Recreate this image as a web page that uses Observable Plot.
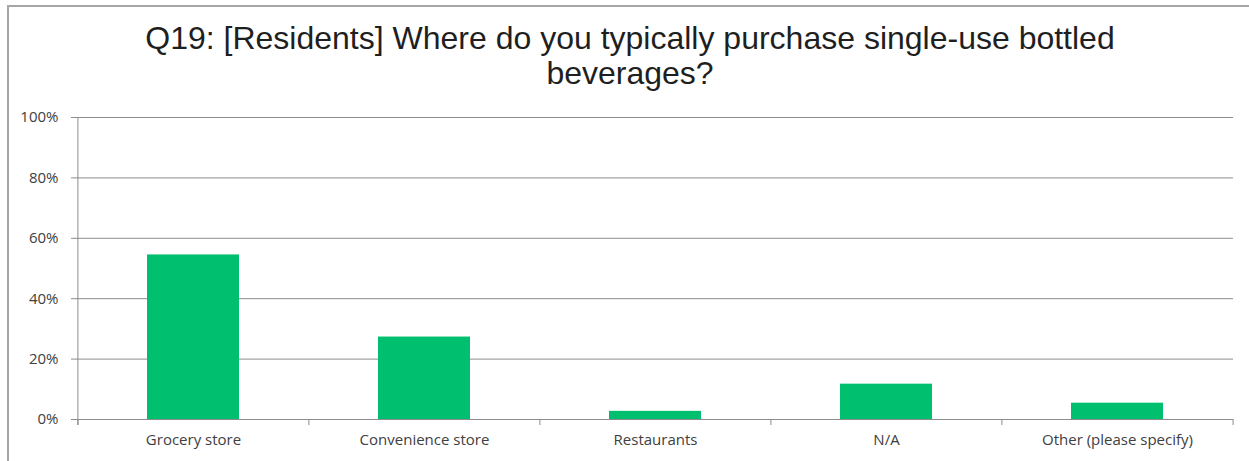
<!DOCTYPE html>
<html>
<head>
<meta charset="utf-8">
<script src="https://cdn.jsdelivr.net/npm/d3@7"></script>
<script src="https://cdn.jsdelivr.net/npm/@observablehq/plot@0.6"></script>
<style>
  html, body { margin: 0; padding: 0; background: #fff; }
  #wrap { position: relative; width: 1249px; height: 461px; overflow: hidden; }
  #border { position: absolute; left: 7px; top: 5px; width: 1260px; height: 500px;
            border-left: 2px solid #a6a6a6; border-top: 2px solid #a6a6a6; box-sizing: border-box; }
  #title { position: absolute; left: 0; top: 0; width: 1260px; height: 100px; box-sizing: border-box;
           padding-top: 21px; text-align: center; font-family: "Liberation Sans", Arial, sans-serif;
           font-size: 32px; line-height: 35px; color: #1f1f1f; margin: 0; font-weight: normal; }
  #chart { position: absolute; left: 0; top: 100px; }
</style>
</head>
<body>
<div id="wrap">
  <div id="border"></div>
  <h2 id="title">Q19: [Residents] Where do you typically purchase single-use bottled<br>beverages?</h2>
  <div id="chart"></div>
</div>
<script>
const categories = ["Grocery store", "Convenience store", "Restaurants", "N/A", "Other (please specify)"];
const values = [0.545, 0.273, 0.027, 0.117, 0.054];
const yTicks = [0, 0.2, 0.4, 0.6, 0.8, 1.0];

const data = categories.map((c, i) => ({category: c, value: values[i]}));

const W = 1249, H = 361;
const mL = 77, mR = 16, mT = 17, mB = 42;
const step = (W - mL - mR) / categories.length;
const gray = "#8c8c8c";
const font = "'Open Sans', 'DejaVu Sans', sans-serif";

const chart = Plot.plot({
  width: W,
  height: H,
  marginLeft: mL,
  marginRight: mR,
  marginTop: mT,
  marginBottom: mB,
  style: { fontFamily: font, fontSize: "15px", color: "#404040", background: "transparent" },
  x: { domain: categories, paddingInner: 0.6, paddingOuter: 0.3, label: null },
  y: { domain: [0, 1], label: null },
  marks: [
    Plot.ruleY(yTicks, { stroke: gray, strokeWidth: 1, strokeOpacity: 1 }),
    Plot.axisY({ ticks: yTicks, tickFormat: d3.format(".0%"), tickSize: 6, tickPadding: 13,
                 stroke: gray, strokeOpacity: 1, label: null, fill: "#404040" }),
    Plot.axisX({ tickSize: 0, tickPadding: 15, label: null, fill: "#404040" }),
    Plot.ruleX([categories[0]], { dx: -step / 2, y1: 1, y2: 0, stroke: gray, insetBottom: -6 }),
    Plot.ruleX(categories, { dx: -step / 2, y1: 0, y2: 0, insetBottom: -6, stroke: gray }),
    Plot.ruleX([categories[categories.length - 1]], { dx: step / 2, y1: 0, y2: 0, insetBottom: -6, stroke: gray }),
    Plot.barY(data, { x: "category", y: "value", fill: "#00bf6f" })
  ]
});
document.getElementById("chart").appendChild(chart);
</script>
</body>
</html>
